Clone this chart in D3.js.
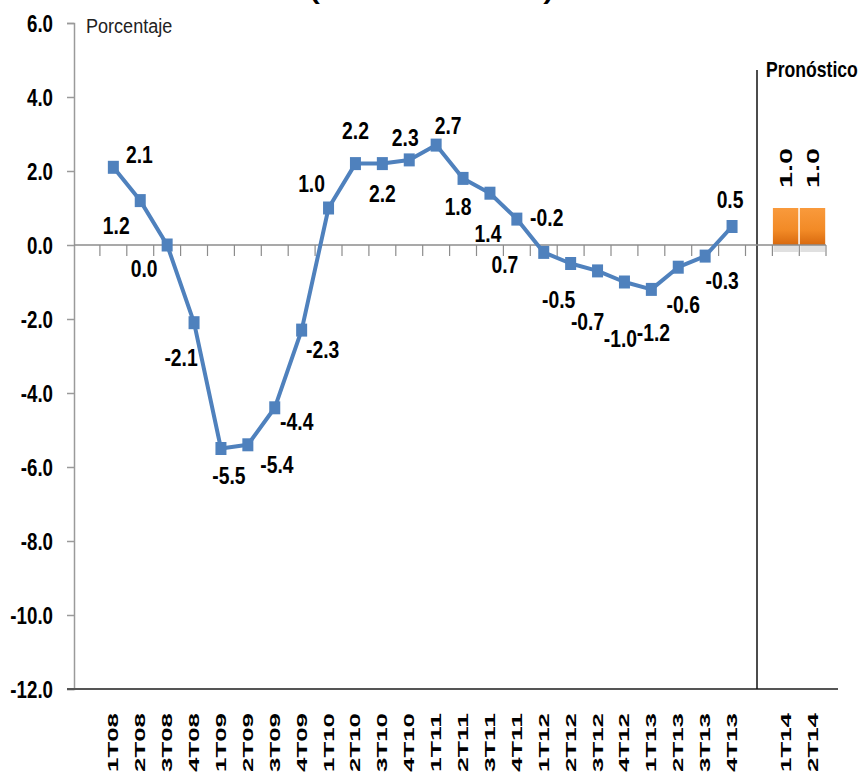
<!DOCTYPE html>
<html>
<head>
  <meta charset="utf-8">
  <title>PIB trimestral</title>
  <script src="https://d3js.org/d3.v7.min.js"></script>
  <style>
    body { margin: 0; background: #fff; }
    text { font-family: "Liberation Sans", Arial, sans-serif; }
  </style>
</head>
<body>
<script>
// observed quarters
var quarters = ['1T08','2T08','3T08','4T08','1T09','2T09','3T09','4T09',
                '1T10','2T10','3T10','4T10','1T11','2T11','3T11','4T11',
                '1T12','2T12','3T12','4T12','1T13','2T13','3T13','4T13'];
var values = [2.1, 1.2, 0.0, -2.1, -5.5, -5.4, -4.4, -2.3,
              1.0, 2.2, 2.2, 2.3, 2.7, 1.8, 1.4, 0.7,
              -0.2, -0.5, -0.7, -1.0, -1.2, -0.6, -0.3, 0.5];
// forecast
var forecastQuarters = ['1T14','2T14'];
var forecastValues = [1.0, 1.0];
var yTicks = [6, 4, 2, 0, -2, -4, -6, -8, -10, -12];

// label placement around each point (layout only)
var labelDx = [26,-24,-23,-13, 8,29,22,21, -17,0,0,-4, 12,-5,-2,-12, 3,-12,-10,-4, 2,5,17,-2];
var labelDy = [-13,25,24,35, 27,20,14,20, -24,-33,30,-22, -19,28,41,46, -35,36,51,57, 43,38,25,-27];

var fmt = function (d) { return d.toFixed(1); };

var width = 866, height = 773;
var svg = d3.select('body').append('svg').attr('width', width).attr('height', height);
svg.append('rect').attr('width', width).attr('height', height).attr('fill', '#fff');

// band layout: blank, 24 quarters, blank, 2 forecast
var domain = ['_a'].concat(quarters, ['_b'], forecastQuarters);
var x = d3.scaleBand().domain(domain).range([73, 73 + 26.9 * domain.length]).padding(0);
var y = d3.scaleLinear().domain([-12, 6]).range([689, 23]);

var defs = svg.append('defs');
var grad = defs.append('linearGradient').attr('id', 'og').attr('x1', 0).attr('y1', 0).attr('x2', 0).attr('y2', 1);
grad.append('stop').attr('offset', '0%').attr('stop-color', '#f99a3c');
grad.append('stop').attr('offset', '60%').attr('stop-color', '#f28a26');
grad.append('stop').attr('offset', '100%').attr('stop-color', '#d8690e');

// title (cut off at top)
svg.append('text').attr('x', 310).attr('y', -1)
  .attr('textLength', 243).attr('lengthAdjust', 'spacingAndGlyphs')
  .style('font-size', '22px').style('font-weight', 'bold')
  .text('(variación anual )');

// y axis
var yAxis = d3.axisLeft(y).tickValues(yTicks).tickSize(7).tickFormat(fmt);
var gy = svg.append('g').attr('transform', 'translate(74,0)').call(yAxis);
gy.select('.domain').attr('stroke', '#9a9a9a').attr('stroke-width', 1.5);
gy.selectAll('.tick line').attr('stroke', '#9a9a9a').attr('stroke-width', 1.5);
gy.selectAll('.tick text').attr('x', -21 / 0.78).attr('dy', '0.36em')
  .attr('transform', 'scale(0.78,1)')
  .style('font-size', '24px').style('font-weight', 'bold').attr('fill', '#000');

svg.append('text').attr('transform', 'translate(86,33) scale(0.86,1)')
  .style('font-size', '21px').attr('fill', '#222').text('Porcentaje');

// bottom axis
svg.append('line').attr('x1', 67).attr('x2', 838).attr('y1', y(-12)).attr('y2', y(-12))
  .attr('stroke', '#555').attr('stroke-width', 2);

// x labels (rotated)
var allLabels = quarters.concat(forecastQuarters);
svg.append('g').selectAll('text').data(allLabels).enter().append('text')
  .attr('transform', function (d) {
    return 'translate(' + (x(d) + x.bandwidth() / 2 + 5) + ',' + 772 + ') rotate(-90)';
  })
  .attr('textLength', 59).attr('lengthAdjust', 'spacingAndGlyphs')
  .style('font-size', '15px').style('font-weight', 'bold')
  .text(function (d) { return d; });

// forecast divider
svg.append('line').attr('x1', 757).attr('x2', 757).attr('y1', 70).attr('y2', y(-12))
  .attr('stroke', '#111').attr('stroke-width', 1.5);
svg.append('text').attr('transform', 'translate(766,77) scale(0.8,1)')
  .style('font-size', '22px').style('font-weight', 'bold').text('Pronóstico');

// forecast bars
var bars = svg.append('g');
bars.selectAll('rect.shadow').data(forecastValues).enter().append('rect')
  .attr('x', function (d, i) { return x(forecastQuarters[i]) + 1; })
  .attr('y', y(0)).attr('width', x.bandwidth() - 2).attr('height', 7)
  .attr('fill', '#000').attr('opacity', 0.12);
bars.selectAll('rect.bar').data(forecastValues).enter().append('rect')
  .attr('x', function (d, i) { return x(forecastQuarters[i]) + 0.5; })
  .attr('y', function (d) { return y(d); })
  .attr('width', x.bandwidth() - 1.5)
  .attr('height', function (d) { return y(0) - y(d); })
  .attr('fill', 'url(#og)');
bars.selectAll('text').data(forecastValues).enter().append('text')
  .attr('transform', function (d, i) {
    return 'translate(' + (x(forecastQuarters[i]) + x.bandwidth() / 2 + 6) + ',' + (y(d) - 20) + ') rotate(-90)';
  })
  .attr('textLength', 40).attr('lengthAdjust', 'spacingAndGlyphs')
  .style('font-size', '17px').style('font-weight', 'bold')
  .text(function (d) { return fmt(d); });

// zero line with ticks
svg.append('line').attr('x1', 74).attr('x2', 826).attr('y1', y(0)).attr('y2', y(0))
  .attr('stroke', '#8c8c8c').attr('stroke-width', 1.5);
svg.append('g').selectAll('line').data(domain.slice(1)).enter().append('line')
  .attr('x1', function (d) { return x(d); }).attr('x2', function (d) { return x(d); })
  .attr('y1', y(0)).attr('y2', y(0) + 11)
  .attr('stroke', '#8c8c8c').attr('stroke-width', 1.2);
svg.append('line').attr('x1', 826).attr('x2', 826).attr('y1', y(0)).attr('y2', y(0) + 11)
  .attr('stroke', '#8c8c8c').attr('stroke-width', 1.2);

// line series
var cx = function (i) { return x(quarters[i]) + x.bandwidth() / 2; };
var line = d3.line().x(function (d, i) { return cx(i); }).y(function (d) { return y(d); });
svg.append('path').datum(values).attr('d', line)
  .attr('fill', 'none').attr('stroke', '#4f81bd').attr('stroke-width', 4).attr('stroke-linejoin', 'round');
svg.append('g').selectAll('rect').data(values).enter().append('rect')
  .attr('x', function (d, i) { return cx(i) - 5.5; })
  .attr('y', function (d) { return y(d) - 6.5; })
  .attr('width', 11).attr('height', 13)
  .attr('fill', '#4f81bd');

// data labels
svg.append('g').selectAll('text').data(values).enter().append('text')
  .attr('transform', function (d, i) {
    return 'translate(' + (cx(i) + labelDx[i]) + ',' + (y(d) + labelDy[i]) + ') scale(0.84,1)';
  })
  .attr('dy', '0.36em').attr('text-anchor', 'middle')
  .style('font-size', '23px').style('font-weight', 'bold')
  .text(function (d) { return fmt(d); });
</script>
</body>
</html>
